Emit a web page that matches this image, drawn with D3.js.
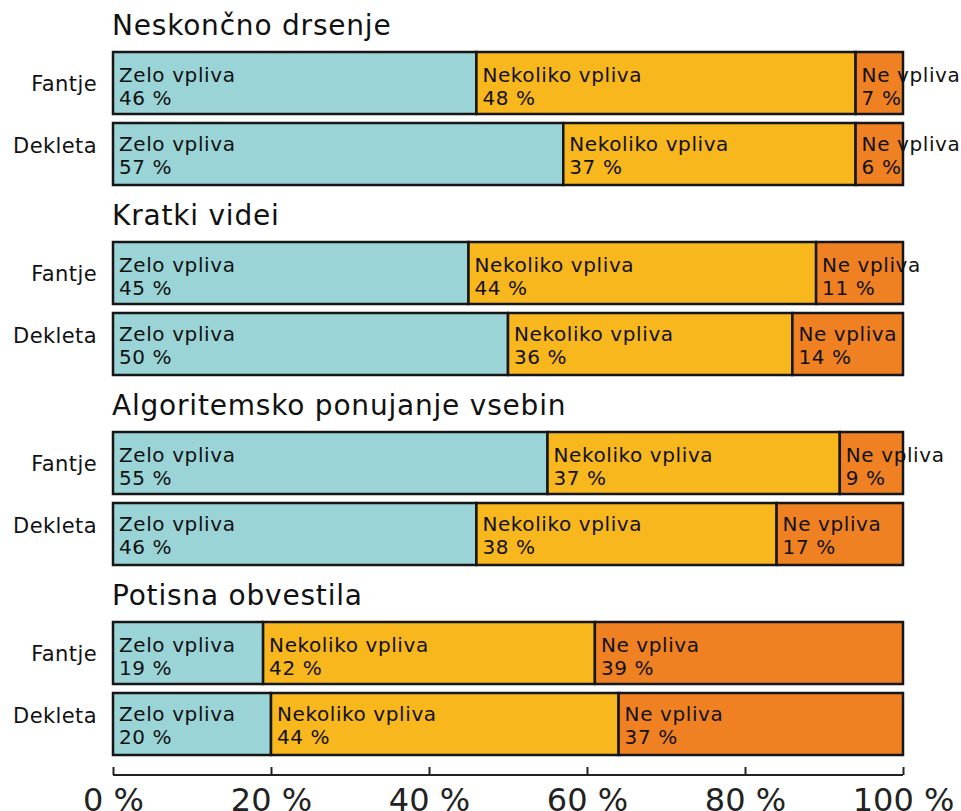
<!DOCTYPE html>
<html>
<head>
<meta charset="utf-8">
<script src="https://cdn.jsdelivr.net/npm/d3@7"></script>
<style>
  body { margin: 0; background: #fff; }
  svg { display: block; font-family: "DejaVu Sans", sans-serif; }
</style>
</head>
<body>
<svg id="chart"></svg>
<script>
// data
const groups = ["Neskončno drsenje", "Kratki videi", "Algoritemsko ponujanje vsebin", "Potisna obvestila"];
const genders = ["Fantje", "Dekleta"];
const categories = ["Zelo vpliva", "Nekoliko vpliva", "Ne vpliva"];
// one value per bar: group 1 Fantje, group 1 Dekleta, group 2 Fantje, ...
const zeloVpliva = [46, 57, 45, 50, 55, 46, 19, 20];
const nekolikoVpliva = [48, 37, 44, 36, 37, 38, 42, 44];
const neVpliva = [7, 6, 11, 14, 9, 17, 39, 37];
const xTicks = [0, 20, 40, 60, 80, 100];

// dimensions
const width = 961, height = 811;
const left = 113, right = 903;
const barH = 62, rowStep = 71;
const colours = ["#9ad4d6", "#f8b71c", "#f08122"];

const svg = d3.select("#chart").attr("width", width).attr("height", height);

// rows table for the stack
const rows = [];
groups.forEach((g, gi) => {
  genders.forEach((s, si) => {
    const i = gi * 2 + si;
    rows.push({
      group: gi, gender: si, label: s,
      "Zelo vpliva": zeloVpliva[i],
      "Nekoliko vpliva": nekolikoVpliva[i],
      "Ne vpliva": neVpliva[i]
    });
  });
});

const stack = d3.stack().keys(categories);
const series = stack(rows);

const x = d3.scaleLinear().domain([0, 100]).range([left, right]).clamp(true);
const groupY = d3.scaleLinear().domain([0, groups.length - 1]).range([52, 622]);
const rowY = d => groupY(d.group) + d.gender * rowStep;
const colour = d3.scaleOrdinal().domain(categories).range(colours);

// group titles
svg.append("g").selectAll("text").data(groups).join("text")
  .attr("x", left - 1)
  .attr("y", (d, i) => groupY(i) - 17)
  .attr("font-size", 28)
  .attr("letter-spacing", 0.8)
  .attr("fill", "#111")
  .text(d => d);

// row labels (they sit a bit closer together than the bars)
svg.append("g").selectAll("text").data(rows).join("text")
  .attr("x", 97)
  .attr("y", d => groupY(d.group) + 39 + d.gender * 62)
  .attr("text-anchor", "end")
  .attr("font-size", 21)
  .attr("letter-spacing", 0.4)
  .attr("fill", "#111")
  .text(d => d.label);

// bars
const segs = svg.append("g").selectAll("g").data(series).join("g")
  .attr("fill", d => colour(d.key));

segs.selectAll("rect").data(d => d).join("rect")
  .attr("x", d => x(d[0]))
  .attr("y", d => rowY(d.data))
  .attr("width", d => x(d[1]) - x(d[0]))
  .attr("height", barH)
  .attr("stroke", "#161616")
  .attr("stroke-width", 2.5);

// segment labels, two lines each
const labels = svg.append("g").selectAll("g").data(series).join("g");
labels.selectAll("text").data(s => s.map(d => ({ key: s.key, d }))).join("text")
  .attr("x", v => x(v.d[0]) + 6)
  .attr("y", v => rowY(v.d.data) + 30 - v.d.data.gender * 2)
  .attr("font-size", 20)
  .attr("letter-spacing", 0.6)
  .attr("fill", "#111")
  .call(t => t.append("tspan").text(v => v.key))
  .call(t => t.append("tspan")
    .attr("x", v => x(v.d[0]) + 6)
    .attr("dy", 22.5)
    .text(v => v.d.data[v.key] + " %"));

// axis
const axis = svg.append("g").attr("transform", "translate(0,775)")
  .call(d3.axisBottom(x).tickValues(xTicks).tickSize(0).tickFormat(d => d + " %"));
axis.select(".domain").remove();
axis.append("line")
  .attr("x1", x(0)).attr("x2", x(100))
  .attr("stroke", "#222").attr("stroke-width", 2);
axis.selectAll(".tick").append("line")
  .attr("y1", -8).attr("y2", 0)
  .attr("stroke", "#222").attr("stroke-width", 2);
axis.selectAll(".tick text")
  .attr("y", 36).attr("dy", 0)
  .attr("font-size", 32)
  .attr("font-family", "DejaVu Sans, sans-serif")
  .attr("fill", "#222");
</script>
</body>
</html>
